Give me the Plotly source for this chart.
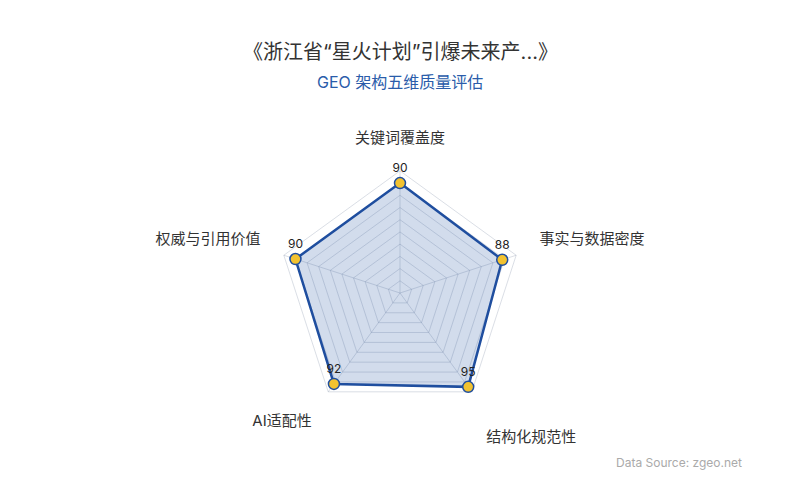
import plotly.graph_objects as go

# GEO five-dimension quality scores
dimensions = ["关键词覆盖度", "事实与数据密度", "结构化规范性", "AI适配性", "权威与引用价值"]
scores = [90, 88, 95, 92, 90]
grid_levels = [10, 20, 30, 40, 50, 60, 70, 80, 90, 100]

# where each dimension name sits (radial units) and how it is anchored
label_r = [120, 120, 120, 123, 120]
label_pos = ["top center", "top right", "bottom right", "bottom left", "top left"]

title_text = "《浙江省“星火计划”引爆未来产...》"
subtitle_text = "GEO 架构五维质量评估"
source_text = "Data Source: zgeo.net"

FONT = "Inter, 'Noto Sans CJK SC', sans-serif"
LINE = "#1f4e9f"
GRID = "rgba(150,160,180,0.35)"

fig = go.Figure()

# spokes from the centre to the 100 ring
spoke_r, spoke_t = [], []
for d in dimensions:
    spoke_r += [0, 100, None]
    spoke_t += [d, d, None]
fig.add_trace(
    go.Scatterpolar(
        r=spoke_r,
        theta=spoke_t,
        mode="lines",
        line=dict(color=GRID, width=1),
        connectgaps=False,
        hoverinfo="skip",
        showlegend=False,
    )
)
fig.add_trace(
    go.Scatterpolar(
        r=scores + scores[:1],
        theta=dimensions + dimensions[:1],
        mode="lines",
        fill="toself",
        fillcolor="rgba(31,78,159,0.2)",
        line=dict(color=LINE, width=2.5),
        hoverinfo="skip",
        showlegend=False,
    )
)
fig.add_trace(
    go.Scatterpolar(
        r=scores,
        theta=dimensions,
        mode="markers+text",
        text=[str(v) for v in scores],
        textposition="top center",
        textfont=dict(size=12, color="#222"),
        marker=dict(size=11, color="#f2c230", line=dict(color=LINE, width=1.5)),
        showlegend=False,
    )
)
# dimension names outside the grid (the lower-right one sits a line lower)
label_text = list(dimensions)
label_text[2] = "<br>" + label_text[2]
fig.add_trace(
    go.Scatterpolar(
        r=label_r,
        theta=dimensions,
        mode="text",
        text=label_text,
        textposition=label_pos,
        textfont=dict(size=15, color="#333"),
        hoverinfo="skip",
        showlegend=False,
    )
)

fig.update_layout(
    width=800,
    height=500,
    font=dict(family=FONT),
    paper_bgcolor="white",
    margin=dict(l=40, r=56, t=114, b=44),
    polar=dict(
        bgcolor="white",
        gridshape="linear",
        radialaxis=dict(
            range=[0, 140],
            tickvals=grid_levels,
            showticklabels=False,
            ticks="",
            showline=False,
            gridcolor=GRID,
        ),
        angularaxis=dict(
            direction="clockwise",
            rotation=90,
            showticklabels=False,
            ticks="",
            showline=False,
            showgrid=False,
        ),
    ),
    annotations=[
        dict(
            text=title_text,
            xref="paper", yref="paper",
            x=0.5, y=1.205,
            xanchor="center", yanchor="middle",
            showarrow=False,
            font=dict(size=20, color="#333"),
        ),
        dict(
            text=subtitle_text,
            xref="paper", yref="paper",
            x=0.5, y=1.117,
            xanchor="center", yanchor="middle",
            showarrow=False,
            font=dict(size=16, color="#2a5caa"),
        ),
        dict(
            text=source_text,
            xref="paper", yref="paper",
            x=1, y=0.003,
            xanchor="right", yanchor="middle",
            xshift=-8,
            showarrow=False,
            font=dict(size=12, color="#aaa"),
        ),
    ],
)

fig.write_html("out.html")
